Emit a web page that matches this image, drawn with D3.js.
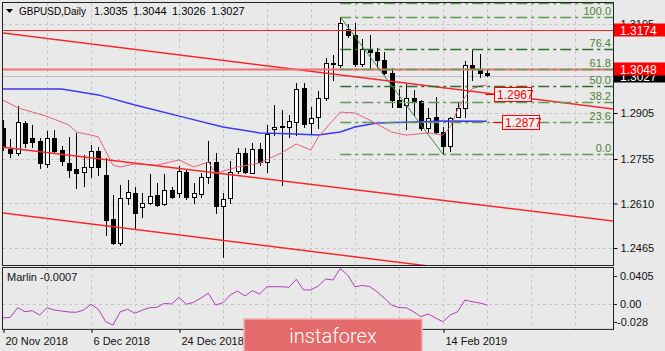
<!DOCTYPE html>
<html>
<head>
<meta charset="utf-8">
<script src="https://cdn.jsdelivr.net/npm/d3@7"></script>
<style>
  body { margin: 0; background: #e9e9e9; }
  svg { display: block; font-family: "Liberation Sans", Arial, sans-serif; }
</style>
</head>
<body>
<svg id="chart" width="665" height="351"></svg>
<script>
// GBPUSD daily, bars 0..66 (20 Nov 2018 .. 22 Feb 2019)
const opens = [1.2856,1.2788,1.2775,1.2872,1.2824,1.2814,1.2739,1.2824,1.2784,1.2742,
  1.2722,1.2713,1.2729,1.2781,1.2703,1.2559,1.2481,1.2628,1.2644,1.2599,
  1.2612,1.2638,1.2608,1.2654,1.2644,1.2713,1.2631,1.2641,1.2696,1.2745,
  1.2602,1.2628,1.2716,1.2775,1.2709,1.2788,1.2745,1.2853,1.2863,1.2859,
  1.2876,1.2987,1.2872,1.2892,1.2954,1.3068,1.3061,1.3179,1.3159,1.3065,
  1.3114,1.3104,1.3078,1.3035,1.2947,1.2931,1.2954,1.2944,1.2856,1.2892,
  1.2843,1.2797,1.2892,1.2921,1.3061,1.3048,1.3035];
const highs = [1.2882,1.2820,1.2928,1.2879,1.2866,1.2824,1.2846,1.2850,1.2797,1.2827,
  1.2840,1.2768,1.2801,1.2794,1.2758,1.2638,1.2670,1.2687,1.2664,1.2644,
  1.2706,1.2677,1.2706,1.2664,1.2732,1.2719,1.2677,1.2709,1.2814,1.2775,
  1.2644,1.2749,1.2791,1.2791,1.2807,1.2807,1.2866,1.2931,1.2915,1.2898,
  1.3003,1.3003,1.2925,1.2977,1.3084,1.3094,1.3218,1.3195,1.3198,1.3146,
  1.3159,1.3117,1.3104,1.3052,1.2983,1.3000,1.2980,1.2947,1.2921,1.2957,
  1.2859,1.2892,1.2938,1.3075,1.3110,1.3097,1.3044];
const lows = [1.2784,1.2762,1.2768,1.2794,1.2794,1.2726,1.2729,1.2775,1.2735,1.2696,
  1.2661,1.2667,1.2696,1.2703,1.2507,1.2477,1.2475,1.2608,1.2527,1.2566,
  1.2608,1.2602,1.2605,1.2628,1.2631,1.2625,1.2612,1.2631,1.2677,1.2579,
  1.2436,1.2612,1.2709,1.2709,1.2709,1.2735,1.2713,1.2833,1.2670,1.2827,
  1.2833,1.2859,1.2840,1.2856,1.2947,1.3013,1.3055,1.3153,1.3058,1.3058,
  1.3052,1.3055,1.3032,1.2925,1.2925,1.2853,1.2898,1.2850,1.2843,1.2840,
  1.2771,1.2781,1.2892,1.2892,1.3013,1.3022,1.3026];
const closes = [1.2797,1.2775,1.2876,1.2807,1.2810,1.2742,1.2824,1.2781,1.2749,1.2719,
  1.2709,1.2729,1.2781,1.2729,1.2556,1.2481,1.2628,1.2647,1.2579,1.2612,
  1.2634,1.2605,1.2654,1.2631,1.2716,1.2631,1.2644,1.2696,1.2745,1.2602,
  1.2625,1.2713,1.2775,1.2713,1.2788,1.2745,1.2837,1.2859,1.2859,1.2879,
  1.2983,1.2869,1.2889,1.2954,1.3068,1.3065,1.3198,1.3159,1.3065,1.3114,
  1.3104,1.3078,1.3035,1.2947,1.2925,1.2954,1.2944,1.2856,1.2889,1.2843,
  1.2797,1.2889,1.2921,1.3061,1.3048,1.3035,1.3027];

// Marlin oscillator, one value per bar
const marlin = [-0.0153,-0.0145,-0.0038,-0.0083,-0.0071,-0.0119,-0.0038,-0.0064,-0.0075,-0.0086,
  -0.0089,-0.0064,0.0000,-0.0056,-0.0194,-0.0231,-0.0083,-0.0056,-0.0100,-0.0064,
  -0.0038,-0.0033,0.0011,0.0003,0.0078,0.0000,0.0022,0.0070,0.0123,-0.0008,
  0.0018,0.0104,0.0148,0.0093,0.0152,0.0115,0.0196,0.0196,0.0196,0.0190,
  0.0279,0.0160,0.0160,0.0204,0.0282,0.0271,0.0400,0.0327,0.0196,0.0210,
  0.0199,0.0141,0.0070,-0.0008,-0.0038,-0.0038,-0.0083,-0.0138,-0.0108,-0.0153,
  -0.0194,-0.0119,-0.0083,0.0048,0.0029,0.0015,-0.0007];

// moving averages: [bar, price]
const maSlow = [[0,1.2983],[8,1.2983],[13,1.2964],[18,1.2931],[25,1.2889],[30,1.2859],[35,1.2840],
  [39,1.2837],[43,1.2833],[46,1.2843],[48,1.2859],[51,1.2872],[56,1.2876],[60,1.2879],[66,1.2878]];
const maFast = [[0,1.2947],[2,1.2922],[4,1.2908],[6,1.2894],[9,1.2866],[10,1.2843],[12,1.2833],[13,1.2827],
  [15,1.2735],[16,1.2729],[18,1.2739],[21,1.2735],[24,1.2752],[26,1.2729],[28,1.2745],[29,1.2709],
  [32,1.2729],[35,1.2742],[38,1.2775],[40,1.2804],[42,1.2784],[43,1.2827],[46,1.2908],[48,1.2905],
  [50,1.2882],[52,1.2856],[53,1.2843],[55,1.2833],[58,1.2840],[60,1.2833],[61,1.2859],[62,1.2915],
  [63,1.2957],[64,1.2984],[65,1.2993],[66,1.2996]];

// drawn objects
const channelLines = [
  [[0, 1.3166], [84, 1.2916]],
  [[0, 1.2793], [84, 1.2551]],
  [[0, 1.2579], [84, 1.2329]]
];
const levelLines = [1.3174, 1.3048];
const bidPrice = 1.3027;
const fibBars = [46, 60];
const fibPrices = [1.3218, 1.2771];
const fibLevels = [0, 23.6, 38.2, 50, 61.8, 76.4, 100, 110];
const fibLabelLevels = [0, 23.6, 38.2, 50, 61.8, 76.4, 100];
const priceLabels = [[67, 1.2967], [68, 1.2877]];

// axes
const priceTicks = [1.2465, 1.2610, 1.2755, 1.2905, 1.3050, 1.3195];
const marlinTicks = [0.0405, 0, -0.028];
const marlinTickText = ["0.0405", "0.00", "-0.028"];
// labels at bars 36 and 48 sit under the watermark and are not visible
const dateBars = [0, 12, 24, 60];
const dateLabels = ["20 Nov 2018", "6 Dec 2018", "24 Dec 2018", "14 Feb 2019"];

const left = 3, right = 613;
const mainTop = 3, mainBottom = 265.5;
const subTop = 268, subBottom = 329.4;

const svg = d3.select("#chart");

const x = d3.scaleLinear().domain([0, 83.2]).range([left, right]);
const y = d3.scaleLinear().domain([1.24079, 1.32635]).range([mainBottom, mainTop]);
const yM = d3.scaleLinear().domain([-0.028, 0.0405]).range([subBottom, subTop]);

const px = v => Math.round(v) + 0.5;

svg.append("rect").attr("width", 665).attr("height", 351).attr("fill", "#e9e9e9");

svg.append("defs").append("clipPath").attr("id", "mainClip")
  .append("rect").attr("x", left).attr("y", mainTop).attr("width", right - left).attr("height", mainBottom - mainTop);

// grid
const gridBars = d3.range(6, 84, 6);
const grid = svg.append("g").attr("stroke", "#c6c6c6").attr("stroke-dasharray", "3,3");
grid.selectAll(".vgrid").data(gridBars).join("line")
  .attr("x1", d => px(x(d))).attr("x2", d => px(x(d)))
  .attr("y1", mainTop).attr("y2", mainBottom);
grid.selectAll(".vgrid2").data(gridBars).join("line")
  .attr("x1", d => px(x(d))).attr("x2", d => px(x(d)))
  .attr("y1", subTop).attr("y2", subBottom);
grid.selectAll(".hgrid").data(priceTicks).join("line")
  .attr("x1", left).attr("x2", right)
  .attr("y1", d => px(y(d))).attr("y2", d => px(y(d)));
grid.append("line").attr("x1", left).attr("x2", right)
  .attr("y1", px(yM(0))).attr("y2", px(yM(0)));

const plot = svg.append("g").attr("clip-path", "url(#mainClip)");

// bid line
plot.append("line")
  .attr("x1", left).attr("x2", right)
  .attr("y1", px(y(bidPrice))).attr("y2", px(y(bidPrice)))
  .attr("stroke", "#c0c0c0");

// candles
const bars = opens.map((o, i) => ({ i, o, h: highs[i], l: lows[i], c: closes[i] }));
plot.selectAll(".wick").data(bars).join("line")
  .attr("x1", d => px(x(d.i))).attr("x2", d => px(x(d.i)))
  .attr("y1", d => Math.round(y(d.h))).attr("y2", d => Math.round(y(d.l)) + 1)
  .attr("stroke", "#000");
plot.selectAll(".body").data(bars).join("rect")
  .attr("x", d => Math.round(x(d.i)) - 1.5)
  .attr("y", d => px(y(Math.max(d.o, d.c))))
  .attr("width", 4)
  .attr("height", d => Math.max(1, Math.round(Math.abs(y(d.o) - y(d.c)))))
  .attr("fill", d => d.c >= d.o ? "#fff" : "#000")
  .attr("stroke", "#000");

// moving averages
const line = d3.line().x(d => x(d[0])).y(d => y(d[1]));
plot.append("path").attr("d", line(maSlow)).attr("fill", "none")
  .attr("stroke", "#3a3af2").attr("stroke-width", 1.5);
plot.append("path").attr("d", line(maFast)).attr("fill", "none")
  .attr("stroke", "#e8607a").attr("stroke-width", 1);

// channel lines
plot.selectAll(".chan").data(channelLines).join("path")
  .attr("d", line).attr("fill", "none")
  .attr("stroke", "#f42a2a").attr("stroke-width", 1.5);

// horizontal levels
plot.selectAll(".lvl").data(levelLines).join("line")
  .attr("x1", left).attr("x2", right)
  .attr("y1", d => px(y(d))).attr("y2", d => px(y(d)))
  .attr("stroke", (d, i) => i === 0 ? "#ff2020" : "#f07070")
  .attr("stroke-width", (d, i) => i === 0 ? 1 : 2);

// fibonacci
const fibPrice = lvl => fibPrices[1] + (fibPrices[0] - fibPrices[1]) * lvl / 100;
plot.selectAll(".fib").data(fibLevels).join("line")
  .attr("x1", x(fibBars[0])).attr("x2", right)
  .attr("y1", d => px(y(fibPrice(d)))).attr("y2", d => px(y(fibPrice(d))))
  .attr("stroke", d => d === 50 || d === 76.4 ? "#2f6e2f" : "#5f9c55")
  .attr("stroke-width", 1.5)
  .attr("stroke-dasharray", "11,4,3,4");
plot.append("line")
  .attr("x1", x(fibBars[0])).attr("y1", y(fibPrices[0]))
  .attr("x2", x(fibBars[1])).attr("y2", y(fibPrices[1]))
  .attr("stroke", "#3f8a3f");
plot.selectAll(".fibText").data(fibLabelLevels).join("text")
  .attr("x", 611).attr("y", d => y(fibPrice(d)) - 2)
  .attr("text-anchor", "end")
  .attr("fill", "#4d7f36")
  .style("font-size", "11px")
  .text(d => d.toFixed(1));

// price labels inside the chart
const pl = plot.selectAll(".plabel").data(priceLabels).join("g");
pl.append("line")
  .attr("x1", d => x(d[0]) - 9).attr("x2", d => Math.round(x(d[0])))
  .attr("y1", d => px(y(d[1]))).attr("y2", d => px(y(d[1])))
  .attr("stroke", "#ff0000");
pl.append("rect")
  .attr("x", d => Math.round(x(d[0])) + 0.5).attr("y", d => Math.round(y(d[1])) - 6.5)
  .attr("width", 37).attr("height", 14)
  .attr("fill", "#efefef").attr("stroke", "#ff0000");
pl.append("text")
  .attr("x", d => Math.round(x(d[0])) + 3).attr("y", d => Math.round(y(d[1])) + 5)
  .attr("fill", "#ff0000").style("font-size", "12px")
  .text(d => d[1].toFixed(4));

// panels
svg.append("rect").attr("x", left - 0.5).attr("y", mainTop - 0.5)
  .attr("width", right - left + 1).attr("height", mainBottom - mainTop + 0.5)
  .attr("fill", "none").attr("stroke", "#222");
svg.append("rect").attr("x", left - 0.5).attr("y", subTop - 0.5)
  .attr("width", right - left + 1).attr("height", subBottom - subTop + 0.5)
  .attr("fill", "none").attr("stroke", "#222");

// marlin
svg.append("path")
  .attr("d", d3.line().x((d, i) => x(i)).y(d => yM(d))(marlin))
  .attr("fill", "none").attr("stroke", "#b23cba").attr("stroke-width", 1);

// price axis
const yAxis = svg.append("g")
  .attr("transform", `translate(${right + 0.5},0)`)
  .call(d3.axisRight(y).tickValues(priceTicks).tickFormat(d3.format(".4f")).tickSize(4).tickPadding(3));
yAxis.select(".domain").remove();
yAxis.selectAll("text").attr("fill", "#111").style("font-size", "11px")
  .style("font-family", "Liberation Sans, Arial, sans-serif");

// marlin axis
const mAxis = svg.append("g");
mAxis.selectAll("line").data(marlinTicks).join("line")
  .attr("x1", right + 1).attr("x2", right + 4)
  .attr("y1", (d, i) => Math.round(yM(d) + [8, 0, -7][i]) + 0.5)
  .attr("y2", (d, i) => Math.round(yM(d) + [8, 0, -7][i]) + 0.5)
  .attr("stroke", "#222");
mAxis.selectAll("text").data(marlinTicks).join("text")
  .attr("x", (d, i) => i === 2 ? 617 : 620)
  .attr("y", (d, i) => yM(d) + [8, 0, -7][i] + 4)
  .attr("fill", "#111").style("font-size", "11px")
  .text((d, i) => marlinTickText[i]);

// current and level markers on the price scale
const tags = [[bidPrice, "#000"], [levelLines[0], "#ff0000"], [levelLines[1], "#ff0000"]];
const tg = svg.selectAll(".tag").data(tags).join("g");
tg.append("rect")
  .attr("x", right + 1).attr("y", d => Math.round(y(d[0])) - 6.5)
  .attr("width", 52).attr("height", 13)
  .attr("fill", d => d[1]);
tg.append("text")
  .attr("x", 620).attr("y", d => Math.round(y(d[0])) + 4.5)
  .attr("fill", "#fff").style("font-size", "12px")
  .text(d => d[0].toFixed(4));

// date axis
const xAxis = svg.append("g")
  .attr("transform", `translate(0,${subBottom + 0.5})`)
  .call(d3.axisBottom(x).tickValues(dateBars).tickFormat((d, i) => dateLabels[i]).tickSize(3).tickPadding(4));
xAxis.select(".domain").remove();
xAxis.selectAll("line").attr("transform", d => `translate(${px(x(d)) - x(d)},0)`);
xAxis.selectAll("text").attr("text-anchor", "start").attr("dx", 2)
  .attr("fill", "#111").style("font-size", "11px")
  .style("font-family", "Liberation Sans, Arial, sans-serif");

// header
svg.append("path").attr("d", "M6,9 L13,9 L9.5,13 Z").attr("fill", "#000");
svg.append("text").attr("x", 19).attr("y", 15).attr("fill", "#000")
  .attr("textLength", 67).attr("lengthAdjust", "spacingAndGlyphs")
  .style("font-size", "11px").text("GBPUSD,Daily");
const last = bars[bars.length - 1];
svg.selectAll(".ohlc").data([last.o, last.h, last.l, last.c]).join("text")
  .attr("x", (d, i) => 94 + i * 39).attr("y", 15).attr("fill", "#000")
  .style("font-size", "11px").text(d => d.toFixed(4));
svg.append("text").attr("x", 7).attr("y", 281).attr("fill", "#111")
  .style("font-size", "11px").text("Marlin " + marlin[marlin.length - 1].toFixed(4));

// watermark
svg.append("rect").attr("x", 244).attr("y", 319).attr("width", 178).attr("height", 33)
  .attr("fill", "#e36b6b").attr("stroke", "#f3b0b0").attr("stroke-width", 1.5);
svg.append("text").attr("x", 333).attr("y", 343).attr("text-anchor", "middle")
  .attr("fill", "#fff").style("font-family", "Roboto, sans-serif").style("font-weight", 300)
  .style("font-size", "20px").text("instaforex");
</script>
</body>
</html>
